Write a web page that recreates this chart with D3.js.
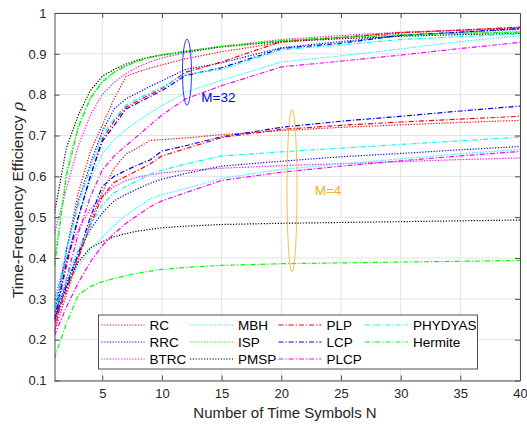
<!DOCTYPE html>
<head>
<meta charset="utf-8">
<title>Time-Frequency Efficiency</title>
<style>
body { margin: 0; background: #fff; }
svg { font-family: "Liberation Sans", Arial, sans-serif; }
.axis path, .axis line { stroke: #4d4d4d; }
.axis text { fill: #262626; font-size: 13px; }
.grid line { stroke: #e3e3e3; }
</style>
<script src="https://cdn.jsdelivr.net/npm/d3@7"></script>
</head>
<body>
<svg id="chart"></svg>
<script>

// number of time symbols
var symbols = [1, 2, 3, 4, 5, 6, 7, 8, 9, 10, 12, 15, 20, 25, 30, 35, 40];

// M = 32
var rc32      = [0.22, 0.42, 0.56, 0.66, 0.725, 0.79, 0.845, 0.856, 0.865, 0.873, 0.888, 0.905, 0.928, 0.94, 0.951, 0.958, 0.965];
var rrc32     = [0.26, 0.42, 0.54, 0.63, 0.71, 0.765, 0.79, 0.805, 0.82, 0.834, 0.862, 0.878, 0.915, 0.93, 0.945, 0.953, 0.96];
var btrc32    = [0.46, 0.57, 0.675, 0.75, 0.8, 0.83, 0.852, 0.868, 0.88, 0.89, 0.903, 0.918, 0.935, 0.945, 0.953, 0.958, 0.962];
var mbh32     = [0.27, 0.4, 0.5, 0.59, 0.655, 0.69, 0.715, 0.735, 0.755, 0.773, 0.806, 0.835, 0.88, 0.895, 0.912, 0.93, 0.944];
var isp32     = [0.39, 0.61, 0.725, 0.792, 0.832, 0.856, 0.871, 0.883, 0.892, 0.898, 0.907, 0.919, 0.933, 0.941, 0.947, 0.951, 0.954];
var pmsp32    = [0.51, 0.67, 0.75, 0.81, 0.845, 0.862, 0.875, 0.885, 0.892, 0.897, 0.905, 0.917, 0.93, 0.937, 0.943, 0.947, 0.95];
var plp32     = [0.25, 0.38, 0.5, 0.6, 0.69, 0.735, 0.77, 0.785, 0.8, 0.815, 0.855, 0.88, 0.93, 0.94, 0.952, 0.958, 0.965];
var lcp32     = [0.25, 0.39, 0.5, 0.6, 0.685, 0.725, 0.765, 0.78, 0.795, 0.81, 0.847, 0.866, 0.913, 0.926, 0.945, 0.953, 0.962];
var plcp32    = [0.22, 0.35, 0.46, 0.55, 0.615, 0.65, 0.675, 0.7, 0.725, 0.75, 0.79, 0.822, 0.868, 0.882, 0.897, 0.913, 0.928];
var phydyas32 = [0.28, 0.42, 0.53, 0.62, 0.7, 0.74, 0.775, 0.79, 0.805, 0.818, 0.85, 0.862, 0.91, 0.922, 0.935, 0.942, 0.949];
var hermite32 = [0.38, 0.6, 0.72, 0.79, 0.83, 0.855, 0.87, 0.882, 0.891, 0.897, 0.906, 0.918, 0.932, 0.94, 0.946, 0.95, 0.953];

// M = 4
var rc4      = [0.22, 0.31, 0.4, 0.49, 0.56, 0.62, 0.655, 0.67, 0.688, 0.69, 0.694, 0.702, 0.712, 0.72, 0.726, 0.732, 0.737];
var rrc4     = [0.26, 0.34, 0.41, 0.47, 0.51, 0.54, 0.556, 0.57, 0.583, 0.593, 0.607, 0.625, 0.637, 0.648, 0.656, 0.665, 0.673];
var btrc4    = [0.3, 0.4, 0.47, 0.52, 0.55, 0.575, 0.59, 0.598, 0.604, 0.608, 0.614, 0.62, 0.626, 0.631, 0.636, 0.641, 0.645];
var mbh4     = [0.27, 0.33, 0.38, 0.42, 0.45, 0.48, 0.505, 0.525, 0.545, 0.555, 0.57, 0.595, 0.617, 0.63, 0.643, 0.655, 0.666];
var pmsp4    = [0.25, 0.33, 0.39, 0.425, 0.44, 0.452, 0.46, 0.466, 0.47, 0.474, 0.478, 0.482, 0.485, 0.487, 0.489, 0.491, 0.493];
var plp4     = [0.24, 0.32, 0.4, 0.48, 0.55, 0.585, 0.6, 0.615, 0.63, 0.65, 0.668, 0.695, 0.715, 0.725, 0.733, 0.74, 0.747];
var lcp4     = [0.25, 0.33, 0.41, 0.5, 0.575, 0.6, 0.615, 0.628, 0.64, 0.662, 0.675, 0.697, 0.72, 0.735, 0.747, 0.76, 0.772];
var plcp4    = [0.21, 0.28, 0.34, 0.39, 0.43, 0.46, 0.485, 0.505, 0.525, 0.54, 0.56, 0.59, 0.61, 0.625, 0.638, 0.65, 0.661];
var phydyas4 = [0.27, 0.35, 0.42, 0.48, 0.53, 0.56, 0.575, 0.59, 0.605, 0.615, 0.63, 0.65, 0.66, 0.669, 0.678, 0.687, 0.696];
var hermite4 = [0.155, 0.24, 0.31, 0.33, 0.342, 0.35, 0.357, 0.363, 0.368, 0.372, 0.377, 0.382, 0.386, 0.388, 0.39, 0.392, 0.394];

var xTicks = [5, 10, 15, 20, 25, 30, 35, 40];
var yTicks = [0.1, 0.2, 0.3, 0.4, 0.5, 0.6, 0.7, 0.8, 0.9, 1];

var DOT = "1.2,1.6", DASHDOT = "5,2,1.2,2";

var schemes = [
  {name: "RC",      color: "#ff0000", dash: DOT,     m32: rc32,      m4: rc4},
  {name: "RRC",     color: "#0000ff", dash: DOT,     m32: rrc32,     m4: rrc4},
  {name: "BTRC",    color: "#ff00ff", dash: DOT,     m32: btrc32,    m4: btrc4},
  {name: "MBH",     color: "#00ffff", dash: DOT,     m32: mbh32,     m4: mbh4},
  {name: "ISP",     color: "#00ff00", dash: DOT,     m32: isp32,     m4: null},
  {name: "PMSP",    color: "#000000", dash: DOT,     m32: pmsp32,    m4: pmsp4},
  {name: "PLP",     color: "#ff0000", dash: DASHDOT, m32: plp32,     m4: plp4},
  {name: "LCP",     color: "#0000ff", dash: DASHDOT, m32: lcp32,     m4: lcp4},
  {name: "PLCP",    color: "#ff00ff", dash: DASHDOT, m32: plcp32,    m4: plcp4},
  {name: "PHYDYAS", color: "#00ffff", dash: DASHDOT, m32: phydyas32, m4: phydyas4},
  {name: "Hermite", color: "#00ff00", dash: DASHDOT, m32: hermite32, m4: hermite4}
];

var W = 527, H = 428;
var margin = {top: 13, right: 7, bottom: 47.5, left: 54.5},
    width = W - margin.left - margin.right,
    height = H - margin.top - margin.bottom;

var svg = d3.select("#chart").attr("width", W).attr("height", H);
var g = svg.append("g").attr("transform", "translate(" + margin.left + "," + margin.top + ")");

var x = d3.scaleLinear().domain([1, 40]).range([0, width]);
var y = d3.scaleLinear().domain([0.1, 1]).range([height, 0]);

// grid
g.append("g").attr("class", "grid")
  .selectAll("line").data(xTicks).enter().append("line")
    .attr("x1", x).attr("x2", x).attr("y1", 0).attr("y2", height);
g.append("g").attr("class", "grid")
  .selectAll("line").data(yTicks).enter().append("line")
    .attr("y1", y).attr("y2", y).attr("x1", 0).attr("x2", width);

g.append("clipPath").attr("id", "clip")
  .append("rect").attr("width", width).attr("height", height);

var line = d3.line()
    .x(function(d) { return x(d[0]); })
    .y(function(d) { return y(d[1]); });

var curves = g.append("g").attr("clip-path", "url(#clip)");

schemes.forEach(function(s) {
  [s.m4, s.m32].forEach(function(vals) {
    if (!vals) return;
    curves.append("path")
      .datum(symbols.map(function(n, i) { return [n, vals[i]]; }))
      .attr("d", line)
      .attr("fill", "none")
      .attr("stroke", s.color)
      .attr("stroke-width", 1.2)
      .attr("stroke-dasharray", s.dash);
  });
});

// axes (ticks inward, box all round)
var fmt = function(d) { return d === 1 ? "1" : d3.format(".1f")(d); };

g.append("g").attr("class", "axis")
  .attr("transform", "translate(0," + height + ")")
  .call(d3.axisBottom(x).tickValues(xTicks).tickSizeInner(-5).tickSizeOuter(0).tickPadding(8));
g.append("g").attr("class", "axis")
  .call(d3.axisTop(x).tickValues(xTicks).tickSizeInner(-5).tickSizeOuter(0).tickFormat(""));
g.append("g").attr("class", "axis")
  .call(d3.axisLeft(y).tickValues(yTicks).tickSizeInner(-5).tickSizeOuter(0).tickPadding(8).tickFormat(fmt));
g.append("g").attr("class", "axis")
  .attr("transform", "translate(" + width + ",0)")
  .call(d3.axisRight(y).tickValues(yTicks).tickSizeInner(-5).tickSizeOuter(0).tickFormat(""));

g.selectAll(".axis .domain").attr("stroke", "#4d4d4d");

// axis titles
svg.append("text")
  .attr("x", 285).attr("y", 418)
  .attr("text-anchor", "middle").attr("font-size", 15).attr("fill", "#262626")
  .text("Number of Time Symbols N");

var ylab = svg.append("text")
  .attr("transform", "translate(23,200) rotate(-90)")
  .attr("text-anchor", "middle").attr("font-size", 15.5).attr("fill", "#262626");
ylab.append("tspan").text("Time-Frequency Efficiency ");
ylab.append("tspan").attr("font-style", "italic").attr("font-family", "DejaVu Serif, serif").text("ρ");

// annotations
g.append("ellipse")
  .attr("cx", x(12.1)).attr("cy", y(0.855)).attr("rx", 4.5).attr("ry", 33)
  .attr("fill", "none").attr("stroke", "#0000ff").attr("stroke-width", 0.8);
g.append("text")
  .attr("x", x(13.3)).attr("y", y(0.782))
  .attr("font-size", 13.5).attr("fill", "#0000ff").text("M=32");

g.append("ellipse")
  .attr("cx", x(20.9)).attr("cy", y(0.565)).attr("rx", 5).attr("ry", 81)
  .attr("fill", "none").attr("stroke", "#edb120").attr("stroke-width", 0.8);
g.append("text")
  .attr("x", x(22.8)).attr("y", y(0.555))
  .attr("font-size", 13.5).attr("fill", "#edb120").text("M=4");

// legend
var lg = svg.append("g").attr("transform", "translate(98.5,315)");
lg.append("rect").attr("width", 379).attr("height", 54)
  .attr("fill", "#fff").attr("stroke", "#262626").attr("stroke-width", 0.8);

var colX = [3, 91.5, 180, 266.5];
var item = lg.selectAll(".item").data(schemes).enter().append("g")
  .attr("transform", function(d, i) {
    return "translate(" + colX[Math.floor(i / 3)] + "," + (10 + (i % 3) * 17) + ")";
  });
item.append("line")
  .attr("x1", 0).attr("x2", 43)
  .attr("stroke", function(d) { return d.color; })
  .attr("stroke-width", 1.2)
  .attr("stroke-dasharray", function(d) { return d.dash; });
item.append("text")
  .attr("x", 48).attr("y", 4.5)
  .attr("font-size", 13.5).attr("fill", "#000")
  .text(function(d) { return d.name; });

</script>
</body>
